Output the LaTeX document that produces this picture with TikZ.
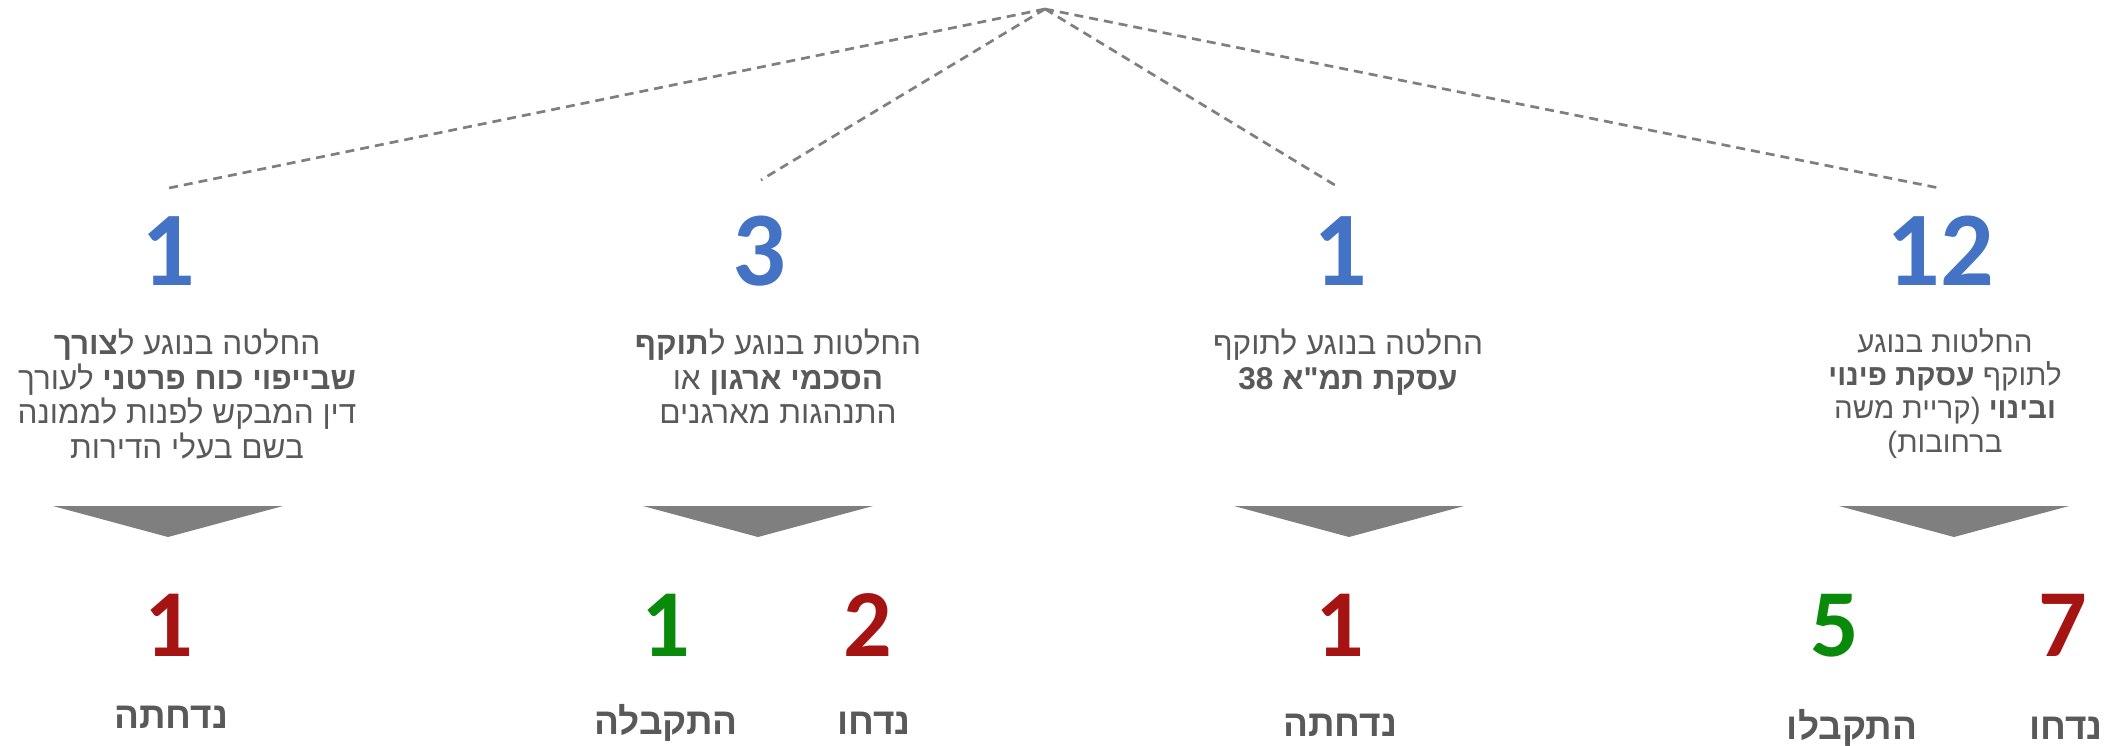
\documentclass[tikz,border=0pt]{standalone}
\usepackage{fontspec}
\setmainfont{Liberation Sans}
\newfontfamily\heb[Script=Hebrew, Ligatures=TeXOff]{Liberation Sans}
\newfontfamily\numfont{Carlito}
\TeXXeTstate=1

\definecolor{numblue}{HTML}{4472C4}
\definecolor{numred}{HTML}{A51313}
\definecolor{numgreen}{HTML}{0A8A0A}
\definecolor{txtgray}{HTML}{595959}
\definecolor{linegray}{HTML}{7F7F7F}

\begin{document}
\begin{tikzpicture}[x=1pt,y=-1pt,
  desc/.style={font=\heb\fontsize{31.5}{34.5}\selectfont, text=txtgray, align=center, inner sep=0pt, anchor=north},
  bignum/.style={font=\numfont\bfseries\fontsize{106}{106}\selectfont, text=numblue, inner sep=0pt, anchor=base},
  outnum/.style={font=\numfont\bfseries\fontsize{96}{96}\selectfont, inner sep=0pt, anchor=base},
  outlbl/.style={font=\heb\bfseries\fontsize{37}{37}\selectfont, text=txtgray, inner sep=0pt, anchor=base},
  link/.style={draw=linegray, line width=2.7pt, dash pattern=on 9pt off 6pt},
  pointer/.style={fill=linegray, draw=none}]

\useasboundingbox (0,0) rectangle (2123,745);

% apex of the fan and the ends of its dashed links
\coordinate (apex) at (1045,9);
\coordinate (e1) at (169,188);
\coordinate (e2) at (761,180);
\coordinate (e3) at (1338,187);
\coordinate (e4) at (1939,188);
\foreach \e in {e1,e2,e3,e4} \draw[link] (apex) -- (\e);

% totals
\node[bignum] (n1) at (168,285) {1};
\node[bignum] (n2) at (759,285) {3};
\node[bignum] (n3) at (1340,285) {1};
\node[bignum] (n4) at (1940,285) {12};

% descriptions
\node[desc] (d1) at (187,329) {%
  \beginR החלטה בנוגע ל\textbf{צורך}\endR\\
  \beginR\textbf{שבייפוי כוח פרטני} לעורך\endR\\
  \beginR דין המבקש לפנות לממונה\endR\\
  \beginR בשם בעלי הדירות\endR};
\node[desc] (d2) at (778,329) {%
  \beginR החלטות בנוגע ל\textbf{תוקף}\endR\\
  \beginR\textbf{הסכמי ארגון} או\endR\\
  \beginR התנהגות מארגנים\endR};
\node[desc] (d3) at (1348,329) {%
  \beginR החלטה בנוגע לתוקף\endR\\
  \beginR\textbf{עסקת תמ"א 38}\endR};
\node[desc, font=\heb\fontsize{29.5}{33.3}\selectfont] (d4) at (1945,328) {%
  \beginR החלטות בנוגע\endR\\
  \beginR לתוקף \textbf{עסקת פינוי}\endR\\
  \beginR\textbf{ובינוי} (קריית משה\endR\\
  \beginR ברחובות)\endR};

% pointers
\foreach \cx in {168,758,1349,1954}
  \fill[pointer] (\cx-115,506) -- (\cx+115,506) -- (\cx,537) -- cycle;

% outcomes
\node[outnum, text=numred] (o1) at (169,656) {1};
\node[outnum, text=numgreen] (o2a) at (666,656) {1};
\node[outnum, text=numred] (o2b) at (868,656) {2};
\node[outnum, text=numred] (o3) at (1340,656) {1};
\node[outnum, text=numgreen] (o4a) at (1835,656) {5};
\node[outnum, text=numred] (o4b) at (2063,656) {7};

\node[outlbl] (l1) at (171,728) {\beginR נדחתה\endR};
\node[outlbl] (l2a) at (666,734) {\beginR התקבלה\endR};
\node[outlbl] (l2b) at (874,734) {\beginR נדחו\endR};
\node[outlbl] (l3) at (1340,736) {\beginR נדחתה\endR};
\node[outlbl] (l4a) at (1852,739) {\beginR התקבלו\endR};
\node[outlbl] (l4b) at (2066,739) {\beginR נדחו\endR};
\end{tikzpicture}
\end{document}
